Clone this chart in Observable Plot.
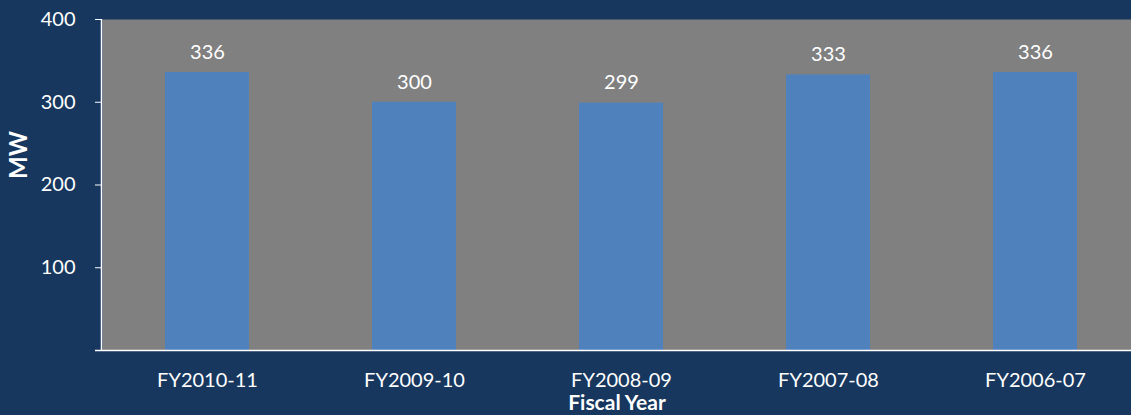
<!DOCTYPE html>
<html><head><meta charset="utf-8">
<script src="https://cdn.jsdelivr.net/npm/d3@7"></script>
<script src="https://cdn.jsdelivr.net/npm/@observablehq/plot@0.6"></script>
<style>
html,body{margin:0;padding:0;background:#17375E;overflow:hidden;}
#chart{width:1131px;height:415px;overflow:hidden;}
</style></head>
<body><div id="chart"></div>
<script>
const categories = ["FY2010-11","FY2009-10","FY2008-09","FY2007-08","FY2006-07"];
const values = [336, 300, 299, 333, 336];
const yTicks = [100, 200, 300, 400];

const data = categories.map((c, i) => ({year: c, mw: values[i]}));
const W = 1131, H = 415, mL = 102, mR = -8, mT = 19, mB = 65;

const leftLine = (index, scales, vals, dims) => {
  const g = d3.create("svg:g");
  g.append("line")
    .attr("x1", dims.marginLeft - 0.5).attr("x2", dims.marginLeft - 0.5)
    .attr("y1", dims.marginTop).attr("y2", dims.height - dims.marginBottom)
    .attr("stroke", "white").attr("stroke-width", 1.5);
  return g.node();
};

const chart = Plot.plot({
  width: W, height: H,
  marginLeft: mL, marginRight: mR, marginTop: mT, marginBottom: mB,
  style: {background: "#17375E", color: "white", fontFamily: "Lato, 'Open Sans', sans-serif", fontSize: "20px", overflow: "hidden"},
  x: {domain: categories, paddingInner: 0.595, paddingOuter: 0.2975, label: null},
  y: {domain: [0, 400], label: null},
  marks: [
    Plot.frame({fill: "#808080", stroke: null}),
    Plot.barY(data, {x: "year", y: "mw", fill: "#4F81BD"}),
    Plot.text(data, {x: "year", y: "mw", text: d => String(d.mw), dy: -20, fill: "white", fontSize: 20}),
    Plot.axisY({ticks: yTicks, tickSize: 7, tickPadding: 20, stroke: "white", fill: "white", fontSize: 20, label: null}),
    Plot.axisX({tickSize: 0, tickPadding: 22, fill: "white", fontSize: 20, label: null}),
    Plot.ruleY([0], {stroke: "white", strokeWidth: 1.5, insetLeft: -7}),
    leftLine,
    Plot.text(["Fiscal Year"], {frameAnchor: "bottom", dx: -4, dy: 59, fill: "white", fontWeight: "bold", fontSize: 21}),
    Plot.text(["MW"], {frameAnchor: "left", dx: -83, dy: -6, rotate: -90, fill: "white", fontWeight: "bold", fontSize: 24})
  ]
});
document.getElementById("chart").appendChild(chart);
</script>
</body></html>
